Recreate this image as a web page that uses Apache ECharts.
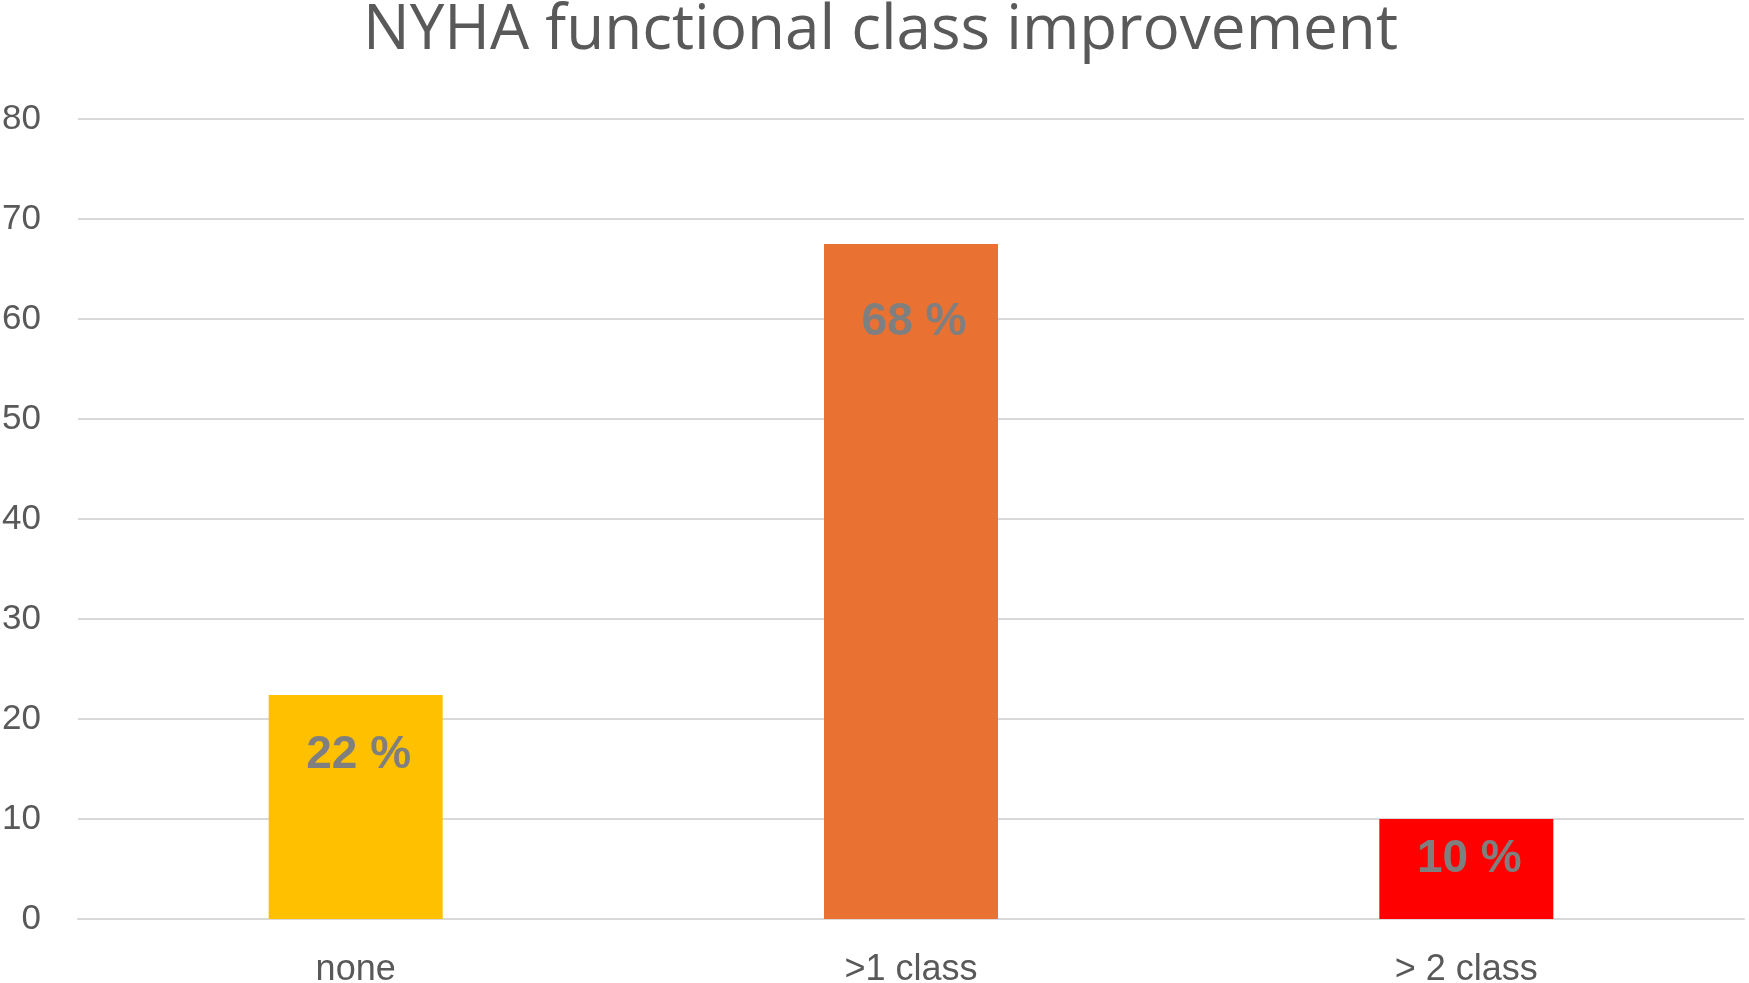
<!DOCTYPE html>
<html>
<head>
<meta charset="utf-8">
<script src="https://cdn.jsdelivr.net/npm/echarts@6/dist/echarts.min.js"></script>
<style>
  html, body { margin: 0; padding: 0; background: #fff; }
  #chart { width: 1749px; height: 983px; }
</style>
</head>
<body>
<div id="chart"></div>
<script>
// categories and values
const categories = ['none', '>1 class', '> 2 class'];
const values = [22.4, 67.5, 10];
const labels = ['22 %', '68 %', '10 %'];
const barColors = ['#FFC000', '#E97132', '#FF0000'];
// small per-bar nudges of the value labels (px)
const labelShift = [0, 18, -20];

const chart = echarts.init(document.getElementById('chart'));

const option = {
  animation: false,
  backgroundColor: '#ffffff',
  title: {
    text: 'NYHA functional class improvement',
    left: 358,
    top: -5,
    textStyle: {
      fontFamily: 'Open Sans',
      fontSize: 62,
      fontWeight: 'normal',
      color: '#595959'
    }
  },
  grid: { left: 78, right: 5, top: 119, bottom: 64, outerBoundsMode: 'none', containLabel: false },
  xAxis: {
    type: 'category',
    data: categories,
    axisLine: { show: true, lineStyle: { color: '#D9D9D9', width: 2 } },
    axisTick: { show: false },
    axisLabel: {
      color: '#595959',
      fontFamily: 'Liberation Sans',
      fontSize: 36,
      margin: 33
    }
  },
  yAxis: {
    type: 'value',
    min: 0,
    max: 80,
    interval: 10,
    axisLine: { show: false },
    axisTick: { show: false },
    splitLine: { lineStyle: { color: '#D9D9D9', width: 2 } },
    axisLabel: {
      color: '#595959',
      fontFamily: 'Liberation Sans',
      fontSize: 35,
      margin: 37
    }
  },
  series: [{
    type: 'bar',
    barWidth: 174,
    data: values.map((v, i) => ({
      value: v,
      itemStyle: { color: barColors[i] },
      label: { offset: [3, labelShift[i]] }
    })),
    label: {
      show: true,
      position: 'insideTop',
      distance: 37,
      formatter: p => labels[p.dataIndex],
      fontFamily: 'Liberation Sans',
      fontWeight: 'bold',
      fontSize: 46,
      color: '#7F7F7F'
    }
  }]
};

chart.setOption(option);
</script>
</body>
</html>
